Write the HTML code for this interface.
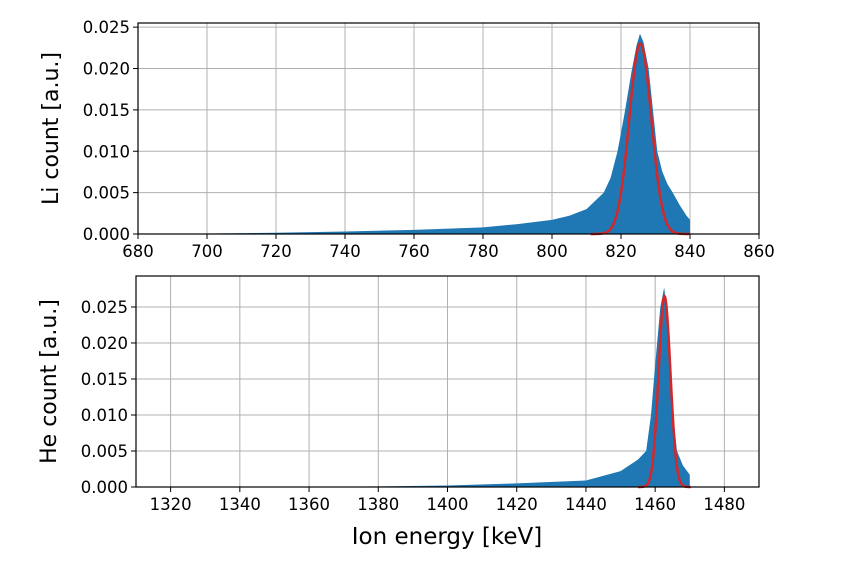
<!DOCTYPE html>
<html><head><meta charset="utf-8"><style>
body{margin:0;background:#fff}
svg{display:block;font-family:"DejaVu Sans","Liberation Sans",sans-serif}
</style></head><body>
<svg id="c" width="850" height="563" viewBox="0 0 850 563"></svg>
<script>
const liEnergy=[690,700,720,740,760,780,790,800,805,810,815,817,819,821,823,824.5,825.5,826.5,828,829.5,830.5,832,833.5,835,837,839,840];
const liCount=[0.00003,0.00006,0.00015,0.0003,0.0005,0.0008,0.0012,0.0017,0.0022,0.003,0.005,0.0068,0.010,0.0145,0.0195,0.0228,0.0242,0.0232,0.020,0.014,0.010,0.0075,0.006,0.005,0.0035,0.0022,0.0017];
const liFit=[825.6,0.023,3.2];
const heEnergy=[1360,1380,1400,1420,1440,1450,1455,1457.4,1458.8,1460,1461.5,1462.6,1463.5,1465.2,1466.3,1468,1470];
const heCount=[0.00002,0.00008,0.0002,0.0005,0.0009,0.0022,0.0038,0.005,0.010,0.017,0.025,0.0277,0.024,0.010,0.005,0.003,0.0017];
const heFit=[1462.7,0.0265,1.7];
const liXTicks=[680,700,720,740,760,780,800,820,840,860];
const heXTicks=[1320,1340,1360,1380,1400,1420,1440,1460,1480];
const yTicks=[0,0.005,0.010,0.015,0.020,0.025];
const NS="http://www.w3.org/2000/svg";
const svg=document.getElementById('c');
function mk(t,a,p){const e=document.createElementNS(NS,t);for(const k in a)e.setAttribute(k,a[k]);(p||svg).appendChild(e);return e;}
function panel(o){
  const g=mk('g',{});
  
  
  const X=v=>o.L+(v-o.x0)/(o.x1-o.x0)*(o.R-o.L);
  const Y=v=>o.B-(v-0)/(o.y1)*(o.B-o.T);
  o.xt.forEach(t=>{const x=X(t);
    const l=mk('line',{x1:x,x2:x,y1:o.T,y2:o.B,stroke:'#b0b0b0','stroke-width':1},g);
    
    mk('line',{x1:x,x2:x,y1:o.B,y2:o.B+5,stroke:'#000'},g);
    const tx=mk('text',{x:x,y:o.B+23,'text-anchor':'middle','font-size':16.5},g);tx.textContent=t;
    
  });
  yTicks.forEach(t=>{const y=Y(t);
    const l=mk('line',{x1:o.L,x2:o.R,y1:y,y2:y,stroke:'#b0b0b0','stroke-width':1},g);
    
    mk('line',{x1:o.L-5,x2:o.L,y1:y,y2:y,stroke:'#000'},g);
    const tx=mk('text',{x:o.L-8,y:y+6,'text-anchor':'end','font-size':16.5},g);tx.textContent=t.toFixed(3);
    
  });
  let d='M'+X(o.e[0])+','+Y(0);
  o.e.forEach((e,i)=>{d+=' L'+X(e)+','+Y(o.c[i]);});
  d+=' L'+X(o.e[o.e.length-1])+','+Y(0)+'Z';
  const h=mk('path',{d:d,fill:'#1f77b4'},g);
  
  let f='';const [mu,A,s]=o.fit;
  for(let x=mu-4.5*s;x<=mu+4.5*s;x+=s/20){f+=(f?' L':'M')+X(x)+','+Y(A*Math.exp(-0.5*((x-mu)/s)**2));}
  const fl=mk('path',{d:f,fill:'none',stroke:'#d62728','stroke-width':2.5},g);
  
  const fr=mk('rect',{x:o.L,y:o.T,width:o.R-o.L,height:o.B-o.T,fill:'none',stroke:'#000','stroke-width':1.2},g);
  
  const yl=mk('text',{x:0,y:0,'text-anchor':'middle','font-size':22,transform:`translate(${o.L-80},${(o.T+o.B)/2}) rotate(-90)`},g);
  yl.textContent=o.ylabel;
}
panel({name:'li-panel',L:138,R:759,T:23,B:234,x0:680,x1:860,y1:0.0255,xt:liXTicks,e:liEnergy,c:liCount,fit:liFit,ylabel:'Li count [a.u.]'});
panel({name:'he-panel',L:136,R:759,T:276,B:487,x0:1310,x1:1490,y1:0.0293,xt:heXTicks,e:heEnergy,c:heCount,fit:heFit,ylabel:'He count [a.u.]'});
const xl=mk('text',{x:447,y:544,'text-anchor':'middle','font-size':23});
xl.textContent='Ion energy [keV]';


</script>
</body></html>
